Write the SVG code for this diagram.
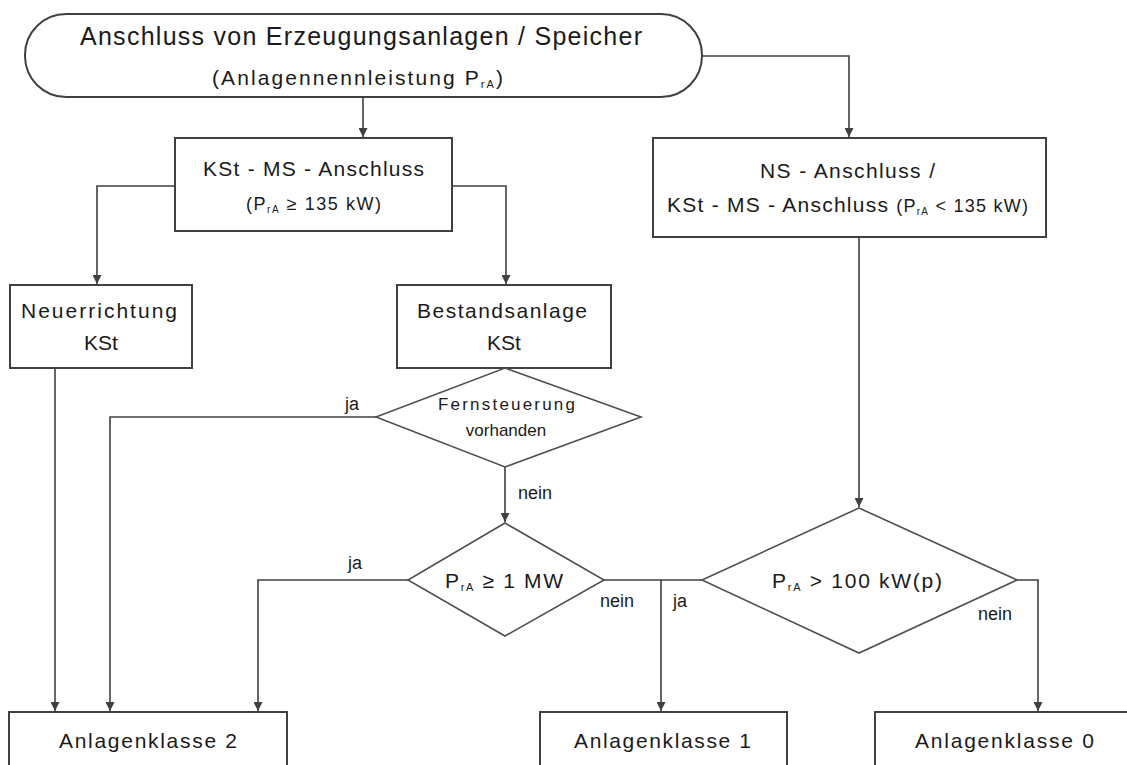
<svg xmlns="http://www.w3.org/2000/svg" width="1127" height="765" viewBox="0 0 1127 765">
<style>
  .box { fill: #ffffff; stroke: #404040; stroke-width: 2; }
  .dia { fill: #ffffff; stroke: #505050; stroke-width: 1.6; }
  .con { fill: none; stroke: #404040; stroke-width: 1.6; }
  text { font-family: "Liberation Sans", Arial, sans-serif; fill: #1a1a1a; }
  .t22 { font-size: 21px; }
  .t18 { font-size: 18px; }
  .lbl { font-size: 18px; }
  .mid { text-anchor: middle; }
</style>
<defs>
  <marker id="arr" viewBox="0 0 10 10" refX="10" refY="5" markerWidth="9" markerHeight="9" markerUnits="userSpaceOnUse" orient="auto">
    <path d="M0,0 L10,5 L0,10 z" fill="#404040"/>
  </marker>
</defs>
<rect width="1127" height="765" fill="#ffffff"/>

<g id="connectors">
  <path class="con" d="M363,97 L363,137" marker-end="url(#arr)"/>
  <path class="con" d="M702,56 L849,56 L849,137" marker-end="url(#arr)"/>
  <path class="con" d="M175,186 L97,186 L97,284" marker-end="url(#arr)"/>
  <path class="con" d="M452,186 L506,186 L506,284" marker-end="url(#arr)"/>
  <path class="con" d="M55,368 L55,711" marker-end="url(#arr)"/>
  <path class="con" d="M376,417 L110,417 L110,711" marker-end="url(#arr)"/>
  <path class="con" d="M505,467 L505,522" marker-end="url(#arr)"/>
  <path class="con" d="M408,580 L258,580 L258,711" marker-end="url(#arr)"/>
  <path class="con" d="M604,580 L661,580 L661,711" marker-end="url(#arr)"/>
  <path class="con" d="M702,580 L661,580"/>
  <path class="con" d="M859,237 L859,507" marker-end="url(#arr)"/>
  <path class="con" d="M1017,580 L1038,580 L1038,711" marker-end="url(#arr)"/>
  <text class="lbl" x="345" y="410">ja</text>
  <text class="lbl" x="518" y="499">nein</text>
  <text class="lbl" x="348" y="569">ja</text>
  <text class="lbl" x="600" y="607">nein</text>
  <text class="lbl" x="673" y="607">ja</text>
  <text class="lbl" x="978" y="620">nein</text>
</g>

<g id="start">
  <rect class="box" x="25" y="14" width="677" height="83" rx="41" ry="41"/>
  <text x="80" y="45" font-size="25" textLength="562">Anschluss von Erzeugungsanlagen / Speicher</text>
  <text x="212" y="85" font-size="21" textLength="291">(Anlagennennleistung P<tspan font-size="11" dy="3">rA</tspan><tspan dy="-3">)</tspan></text>
</g>

<g id="kst-ms">
  <rect class="box" x="175" y="138" width="277" height="93"/>
  <text class="t22" x="203" y="176" textLength="221">KSt - MS - Anschluss</text>
  <text class="t18" x="246" y="210" textLength="135">(P<tspan font-size="10" dy="3">rA</tspan><tspan dy="-3"> ≥ 135 kW)</tspan></text>
</g>

<g id="ns">
  <rect class="box" x="653" y="138" width="393" height="99"/>
  <text class="t22" x="760" y="178" textLength="175">NS - Anschluss /</text>
  <text class="t22" x="667" y="212" textLength="361">KSt - MS - Anschluss <tspan font-size="18">(P</tspan><tspan font-size="10" dy="3">rA</tspan><tspan font-size="18" dy="-3"> &lt; 135 kW)</tspan></text>
</g>

<g id="neuerrichtung">
  <rect class="box" x="10" y="285" width="182" height="83"/>
  <text class="t22" x="21" y="318" textLength="156">Neuerrichtung</text>
  <text class="t22 mid" x="101" y="350">KSt</text>
</g>

<g id="bestandsanlage">
  <rect class="box" x="397" y="285" width="214" height="83"/>
  <text class="t22" x="417" y="318" textLength="170">Bestandsanlage</text>
  <text class="t22 mid" x="504" y="350">KSt</text>
</g>

<g id="fernsteuerung">
  <polygon class="dia" points="505,368 641,417 505,467 376,417"/>
  <text x="438" y="410" font-size="17" textLength="137">Fernsteuerung</text>
  <text class="mid" x="506" y="436" font-size="17">vorhanden</text>
</g>

<g id="leistung-1mw">
  <polygon class="dia" points="505,523 604,580 505,636 408,580"/>
  <text x="445" y="588" font-size="21" textLength="118">P<tspan font-size="11" dy="3">rA</tspan><tspan dy="-3"> ≥ 1 MW</tspan></text>
</g>

<g id="leistung-100kw">
  <polygon class="dia" points="859,508 1017,580 859,653 702,580"/>
  <text x="772" y="588" font-size="21" textLength="170">P<tspan font-size="11" dy="3">rA</tspan><tspan dy="-3"> &gt; 100 kW(p)</tspan></text>
</g>

<g id="klasse2">
  <rect class="box" x="9" y="712" width="278" height="70"/>
  <text x="59" y="748" font-size="21" textLength="178">Anlagenklasse 2</text>
</g>

<g id="klasse1">
  <rect class="box" x="540" y="712" width="247" height="70"/>
  <text x="574" y="748" font-size="21" textLength="177">Anlagenklasse 1</text>
</g>

<g id="klasse0">
  <rect class="box" x="875" y="712" width="270" height="70"/>
  <text x="915" y="748" font-size="21" textLength="179">Anlagenklasse 0</text>
</g>
</svg>
